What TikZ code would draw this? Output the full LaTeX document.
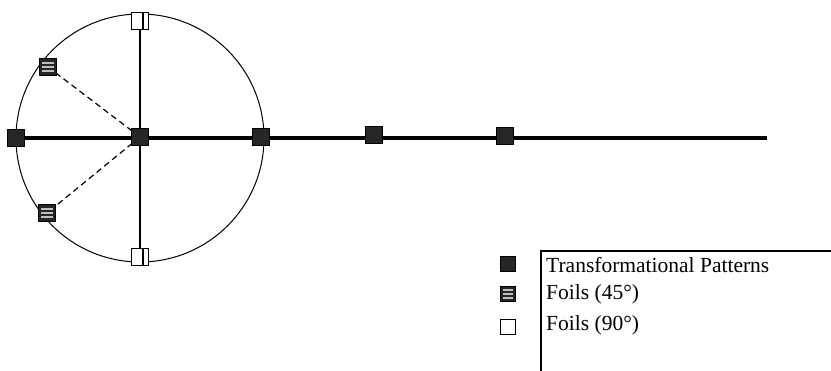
\documentclass[tikz,border=0pt]{standalone}
\usepackage{fontspec}
\setmainfont{Liberation Serif}
\begin{document}
\begin{tikzpicture}[x=1pt,y=-1pt,
  sq/.style={draw=black,line width=1pt,minimum size=17pt,inner sep=0pt,outer sep=0pt},
  tpat/.style={sq,fill=black!85},
  foilA/.style={sq,fill=black!85,path picture={
      \foreach \k in {-4,0,4}
        \draw[black!25,line width=1.3pt] ([xshift=2.5pt,yshift=\k pt]path picture bounding box.west) -- ([xshift=-2.5pt,yshift=\k pt]path picture bounding box.east);}},
  foilB/.style={sq,fill=white,line width=1.5pt},
  legtext/.style={anchor=west,inner sep=0pt,font=\fontsize{21.5}{25}\selectfont}]
\useasboundingbox (0,0) rectangle (831,371);

% reference circle
\node[circle,draw,line width=1pt,minimum size=248pt,inner sep=0pt] (ring) at (140,138) {};

% foils at 90 degrees and 45 degrees
\node[foilB] (top) at (140,21) {};
\node[foilB] (bot) at (140,257) {};
\node[foilA] (ul) at (48,67) {};
\node[foilA] (ll) at (47,213) {};

% transformational patterns along the axis
\node[tpat] (p0) at (16,138) {};
\node[tpat] (p1) at (140,137) {};
\node[tpat] (p2) at (261,137) {};
\node[tpat] (p3) at (374,135) {};
\node[tpat] (p4) at (505,136) {};
\coordinate (axisend) at (767,138);

% connectors
\draw[line width=1.4pt] (top.center) -- (bot.center);
\draw[line width=1.2pt,dash pattern=on 6pt off 4pt] (p1.center) -- (ul.center);
\draw[line width=1.2pt,dash pattern=on 6pt off 4pt] (p1.center) -- (ll.center);
\draw[line width=4pt] (p0.center) -- (axisend);

% redraw markers over the lines
\node[tpat] at (p0) {};
\node[tpat] at (p1) {};
\node[tpat] at (p2) {};
\node[tpat] at (p3) {};
\node[tpat] at (p4) {};
\node[foilA] at (ul) {};
\node[foilA] at (ll) {};
\node[foilB] at (top) {};
\node[foilB] at (bot) {};
\draw[line width=1.4pt] ([xshift=3pt]top.north) -- ([xshift=3pt]top.south);
\draw[line width=1.4pt] ([xshift=3pt]bot.north) -- ([xshift=3pt]bot.south);

% legend
\node[tpat,minimum size=15pt] (k1) at (508,264) {};
\node[foilA,minimum size=15pt] (k2) at (508,294) {};
\node[foilB,minimum size=15pt] (k3) at (508,327) {};
\coordinate (boxtop) at (541,251);
\coordinate (boxbot) at (541,371);
\coordinate (boxright) at (831,251);
\draw[line width=2pt] (boxbot) -- (boxtop) -- (boxright);
\node[legtext] (t1) at (546,265) {Transformational Patterns};
\node[legtext] (t2) at (546,294) {Foils (45°)};
\node[legtext] (t3) at (546,325) {Foils (90°)};
\end{tikzpicture}
\end{document}
